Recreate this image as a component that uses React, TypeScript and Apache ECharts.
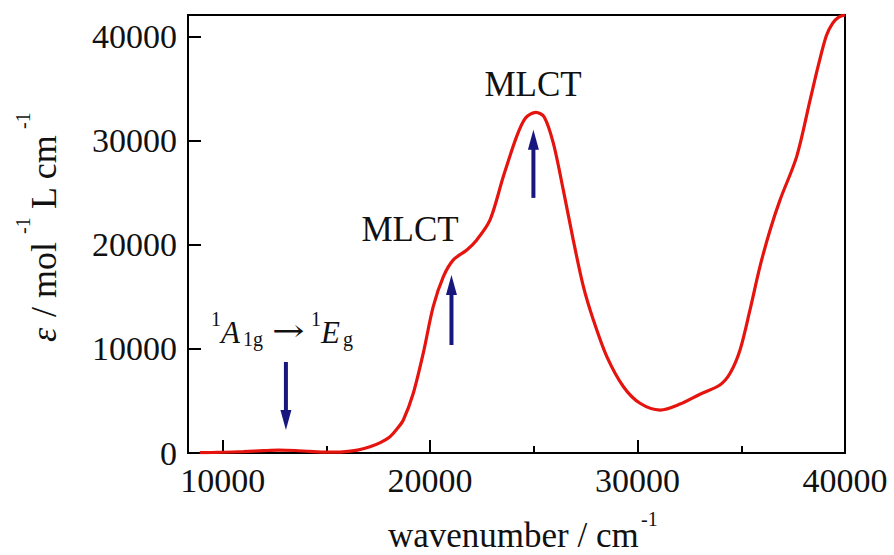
import React, { useEffect, useRef } from 'react';
import * as echarts from 'echarts';

const wavenumber = [
  8900, 9500, 10000, 11000, 12000, 12700, 13500, 14200, 15000, 15800, 16500, 17100,
  17600, 18070, 18400, 18710, 19190, 19670, 20150, 20640, 21120, 21770, 22250, 22890,
  23530, 24170, 24600, 25100, 25500, 25940, 26420, 26900, 27390, 27870, 28520, 29320,
  30120, 31090, 32050, 33010, 33970, 34460, 34940, 35420, 35900, 36390, 36870, 37670,
  38320, 38720, 39100, 39400, 39700, 40000,
];
const epsilon = [
  40, 50, 70, 130, 230, 280, 240, 150, 80, 110, 280, 600,
  1000, 1570, 2300, 3170, 5740, 9590, 14070, 16950, 18560, 19520, 20480, 22400,
  26570, 30410, 32200, 32750, 32300, 29780, 25290, 20480, 15990, 12790, 9260, 6370,
  4780, 4130, 4700, 5650, 6540, 7660, 9900, 13750, 17910, 21440, 24330, 28490,
  33940, 37300, 40100, 41300, 41900, 42100,
];
const xMajorTicks = [10000, 20000, 30000, 40000];
const xMinorTicks = [15000, 25000, 35000];
const yTicks = [0, 10000, 20000, 30000, 40000];

// annotation arrows (data units): x position, tail value, tip value
const arrowX = [13050, 21030, 24980];
const arrowTail = [8750, 10380, 24520];
const arrowTip = [2210, 17110, 31060];

const FONT = '"Liberation Serif", "Times New Roman", "DejaVu Serif", serif';
const NAVY = '#17177e';
const INK = '#111111';

export default function App() {
  const ref = useRef<HTMLDivElement>(null);
  useEffect(() => {
    const chart = echarts.init(ref.current!, null, { renderer: 'svg' });
    const data = wavenumber.map((w, i) => [w, epsilon[i]]);
    const plain = (v: number) => String(v);
    chart.setOption({
      animation: false,
      backgroundColor: '#ffffff',
      grid: {
        left: 188, top: 15, right: 49, bottom: 102,
        show: true, borderColor: '#000', borderWidth: 2, backgroundColor: 'transparent',
      },
      xAxis: [
        {
          type: 'value', min: 8330, max: 40000, position: 'bottom',
          axisLine: { show: true, lineStyle: { color: '#000', width: 2 } },
          axisTick: { show: true, inside: true, length: 13, customValues: xMajorTicks, lineStyle: { color: '#000', width: 2 } },
          axisLabel: { customValues: xMajorTicks, formatter: plain, margin: 10, color: INK, fontFamily: FONT, fontSize: 34 },
          splitLine: { show: false },
        },
        {
          type: 'value', min: 8330, max: 40000, position: 'bottom', offset: 0,
          axisLine: { show: false },
          axisTick: { show: true, inside: true, length: 7, customValues: xMinorTicks, lineStyle: { color: '#000', width: 2 } },
          axisLabel: { show: false },
          splitLine: { show: false },
        },
      ],
      yAxis: {
        type: 'value', min: 0, max: 42100,
        axisLine: { show: true, lineStyle: { color: '#000', width: 2 } },
        axisTick: { show: true, inside: true, length: 13, customValues: yTicks, lineStyle: { color: '#000', width: 2 } },
        axisLabel: { customValues: yTicks, formatter: plain, margin: 11, color: INK, fontFamily: FONT, fontSize: 34 },
        splitLine: { show: false },
      },
      series: [
        {
          type: 'line', data, smooth: 0.3, showSymbol: false, symbol: 'none',
          lineStyle: { color: '#e5140e', width: 3.2 }, clip: true, silent: true,
        },
      ],
    });

    const toPx = (x: number, y: number) => chart.convertToPixel({ xAxisIndex: 0, yAxisIndex: 0 }, [x, y]) as number[];
    const graphics: any[] = [];
    const headLen = 20;
    arrowX.forEach((ax, i) => {
      const p0 = toPx(ax, arrowTail[i]);
      const p1 = toPx(ax, arrowTip[i]);
      const dir = Math.sign(p1[1] - p0[1]);
      const base = p1[1] - dir * headLen;
      graphics.push({
        type: 'line', silent: true,
        shape: { x1: p0[0], y1: p0[1], x2: p0[0], y2: base + dir * 2 },
        style: { stroke: NAVY, lineWidth: 4 },
      });
      graphics.push({
        type: 'polygon', silent: true,
        shape: { points: [[p1[0] - 5.5, base], [p1[0] + 5.5, base], [p1[0], p1[1]]] },
        style: { fill: NAVY },
      });
    });

    const txt = (text: string, x: number, y: number, size: number, opts: any = {}) => ({
      type: 'text', x, y, silent: true, scaleX: opts.scaleX || 1,
      style: {
        text, fill: INK, font: `${opts.italic ? 'italic ' : ''}${size}px ${opts.family || FONT}`,
        align: opts.align || 'left', verticalAlign: 'middle',
      },
    });

    graphics.push(txt('MLCT', 533, 84, 35, { align: 'center' }));
    graphics.push(txt('MLCT', 410, 229, 35, { align: 'center' }));
    // 1A1g -> 1Eg
    graphics.push(txt('1', 211, 319, 20));
    graphics.push(txt('A', 221, 332, 31, { italic: true }));
    graphics.push(txt('1g', 243, 339, 20));
    graphics.push(txt('\u2192', 272, 331, 30, { family: '"DejaVu Serif", serif', scaleX: 1.3 }));
    graphics.push(txt('1', 311, 319, 20));
    graphics.push(txt('E', 321, 332, 31, { italic: true }));
    graphics.push(txt('g', 343, 339, 20));

    // x axis title
    graphics.push(txt('wavenumber / cm', 388, 535, 35));
    graphics.push(txt('-1', 641, 519, 20));

    // y axis title (rotated)
    graphics.push({
      type: 'group', x: 56, y: 342, rotation: Math.PI / 2, silent: true,
      children: [
        { type: 'text', x: 0, y: -12, style: { text: '\u03b5', fill: INK, font: `italic 36px ${FONT}`, verticalAlign: 'middle' } },
        { type: 'text', x: 16, y: -12, style: { text: ' / mol', fill: INK, font: `36px ${FONT}`, verticalAlign: 'middle' } },
        { type: 'text', x: 108, y: -33, style: { text: '-1', fill: INK, font: `20px ${FONT}`, verticalAlign: 'middle' } },
        { type: 'text', x: 124, y: -12, style: { text: ' L cm', fill: INK, font: `36px ${FONT}`, verticalAlign: 'middle' } },
        { type: 'text', x: 213, y: -33, style: { text: '-1', fill: INK, font: `20px ${FONT}`, verticalAlign: 'middle' } },
      ],
    });

    chart.setOption({ graphic: graphics });
    return () => chart.dispose();
  }, []);
  return (
    <div
      ref={ref}
      style={{ position: 'fixed', left: 0, top: 0, width: 894, height: 555, background: '#fff' }}
    />
  );
}
